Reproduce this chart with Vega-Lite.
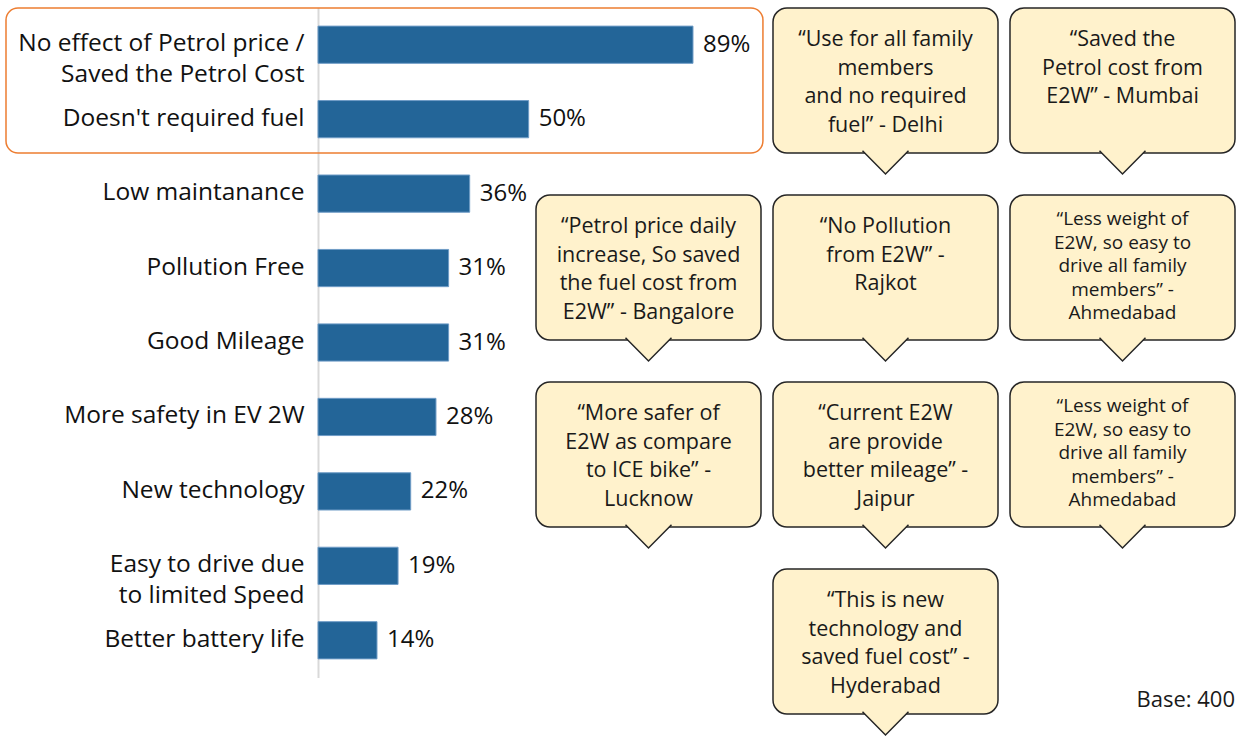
{
  "$schema": "https://vega.github.io/schema/vega-lite/v6.json",
  "width": 920,
  "height": 737,
  "autosize": {"type": "none"},
  "padding": {"left": 318, "top": 0, "right": 0, "bottom": 0},
  "background": "white",
  "config": {"view": {"stroke": null}, "font": "Open Sans"},
  "datasets": {
    "bars": [
      {"reason": "No effect of Petrol price /\nSaved the Petrol Cost", "share": 0.89},
      {"reason": "Doesn't required fuel", "share": 0.50},
      {"reason": "Low maintanance", "share": 0.36},
      {"reason": "Pollution Free", "share": 0.31},
      {"reason": "Good Mileage", "share": 0.31},
      {"reason": "More safety in EV 2W", "share": 0.28},
      {"reason": "New technology", "share": 0.22},
      {"reason": "Easy to drive due\nto limited Speed", "share": 0.19},
      {"reason": "Better battery life", "share": 0.14}
    ],
    "quotes": [
      {"col": 2, "row": 1, "quote": "“Use for all family\nmembers\nand no required\nfuel” - Delhi"},
      {"col": 3, "row": 1, "quote": "“Saved the\nPetrol cost from\nE2W” - Mumbai"},
      {"col": 1, "row": 2, "quote": "“Petrol price daily\nincrease, So saved\nthe fuel cost from\nE2W” - Bangalore"},
      {"col": 2, "row": 2, "quote": "“No Pollution\nfrom E2W” -\nRajkot"},
      {"col": 3, "row": 2, "quote": "“Less weight of\nE2W, so easy to\ndrive all family\nmembers” -\nAhmedabad"},
      {"col": 1, "row": 3, "quote": "“More safer of\nE2W as compare\nto ICE bike” -\nLucknow"},
      {"col": 2, "row": 3, "quote": "“Current E2W\nare provide\nbetter mileage” -\nJaipur"},
      {"col": 3, "row": 3, "quote": "“Less weight of\nE2W, so easy to\ndrive all family\nmembers” -\nAhmedabad"},
      {"col": 2, "row": 4, "quote": "“This is new\ntechnology and\nsaved fuel cost” -\nHyderabad"}
    ]
  },
  "layer": [
    {
      "data": {"values": [{"note": "highlight"}]},
      "mark": {"type": "rect", "fillOpacity": 0, "fill": "white", "stroke": "#ED7D31", "strokeWidth": 1.5, "cornerRadius": 12},
      "encoding": {
        "x": {"datum": -0.7405, "type": "quantitative", "scale": {"domain": [0, 2.1835], "nice": false, "zero": false}, "axis": null},
        "x2": {"datum": 1.056},
        "y": {"datum": 1, "type": "ordinal", "scale": {"domain": [1, 2, 3, 4], "range": [8, 714], "paddingInner": 0.2246, "paddingOuter": 0}, "axis": null}
      }
    },
    {
      "data": {"name": "bars"},
      "encoding": {
        "y": {
          "field": "reason", "type": "nominal", "sort": null,
          "scale": {"range": [7.5, 677.5], "paddingInner": 0.5, "paddingOuter": 0.25},
          "axis": {
            "title": null, "ticks": false, "grid": false,
            "domain": true, "domainColor": "#d9d9d9", "domainWidth": 2,
            "labelFont": "Open Sans", "labelFontSize": 24.5, "labelColor": "#111111",
            "labelPadding": 14, "labelLimit": 400, "labelBaseline": "top",
            "labelOffset": -12.5, "labelLineHeight": 31,
            "labelExpr": "split(datum.label, '\\n')"
          }
        },
        "x": {"field": "share", "type": "quantitative", "scale": {"domain": [0, 2.1835], "nice": false, "zero": false}, "axis": null}
      },
      "layer": [
        {"mark": {"type": "bar", "color": "#236598", "stroke": "#6f9cc6", "strokeWidth": 1}},
        {
          "mark": {"type": "text", "align": "left", "baseline": "middle", "dx": 10, "fontSize": 24, "color": "#111111"},
          "encoding": {"text": {"field": "share", "type": "quantitative", "format": ".0%"}}
        }
      ]
    },
    {
      "data": {"name": "quotes"},
      "encoding": {
        "x": {"field": "col", "type": "ordinal", "scale": {"domain": [1, 2, 3], "range": [218, 917], "paddingInner": 0.0506, "paddingOuter": 0}, "axis": null},
        "y": {"field": "row", "type": "ordinal", "scale": {"domain": [1, 2, 3, 4], "range": [8, 714], "paddingInner": 0.2246, "paddingOuter": 0}, "axis": null}
      },
      "layer": [
        {"mark": {"type": "rect", "fill": "#FFF2CC", "stroke": "#262626", "strokeWidth": 1.5, "cornerRadius": 14}},
        {
          "mark": {"type": "point", "shape": "M-1,-0.1L0,0.91L1,-0.1", "size": 2116, "filled": true, "fill": "#FFF2CC", "stroke": "#262626", "strokeWidth": 1.5, "opacity": 1},
          "encoding": {
            "y": {"field": "row", "type": "ordinal", "bandPosition": 1, "scale": {"domain": [1, 2, 3, 4], "range": [8, 714], "paddingInner": 0.2246, "paddingOuter": 0}, "axis": null}
          }
        },
        {
          "transform": [{"filter": "length(split(datum.quote, '\\n')) <= 4"}],
          "mark": {"type": "text", "align": "center", "baseline": "top", "fontSize": 21.5, "lineHeight": 28.6, "lineBreak": "\n", "dy": 21, "color": "#1a1a1a"},
          "encoding": {
            "y": {"field": "row", "type": "ordinal", "bandPosition": 0, "scale": {"domain": [1, 2, 3, 4], "range": [8, 714], "paddingInner": 0.2246, "paddingOuter": 0}, "axis": null},
            "text": {"field": "quote", "type": "nominal"}
          }
        },
        {
          "transform": [{"filter": "length(split(datum.quote, '\\n')) > 4"}],
          "mark": {"type": "text", "align": "center", "baseline": "top", "fontSize": 19, "lineHeight": 23.5, "lineBreak": "\n", "dy": 15, "color": "#1a1a1a"},
          "encoding": {
            "y": {"field": "row", "type": "ordinal", "bandPosition": 0, "scale": {"domain": [1, 2, 3, 4], "range": [8, 714], "paddingInner": 0.2246, "paddingOuter": 0}, "axis": null},
            "text": {"field": "quote", "type": "nominal"}
          }
        },
        {
          "data": {"values": [{"label": "Base: 400"}]},
          "mark": {"type": "text", "align": "right", "baseline": "middle", "fontSize": 22, "color": "#1a1a1a"},
          "encoding": {
            "x": {"datum": 3, "type": "ordinal", "bandPosition": 1, "scale": {"domain": [1, 2, 3], "range": [218, 917], "paddingInner": 0.0506, "paddingOuter": 0}, "axis": null},
            "y": {"datum": 4, "type": "ordinal", "bandPosition": 0.9, "scale": {"domain": [1, 2, 3, 4], "range": [8, 714], "paddingInner": 0.2246, "paddingOuter": 0}, "axis": null},
            "text": {"field": "label", "type": "nominal"}
          }
        }
      ]
    }
  ],
  "resolve": {"scale": {"x": "independent", "y": "independent"}}
}
